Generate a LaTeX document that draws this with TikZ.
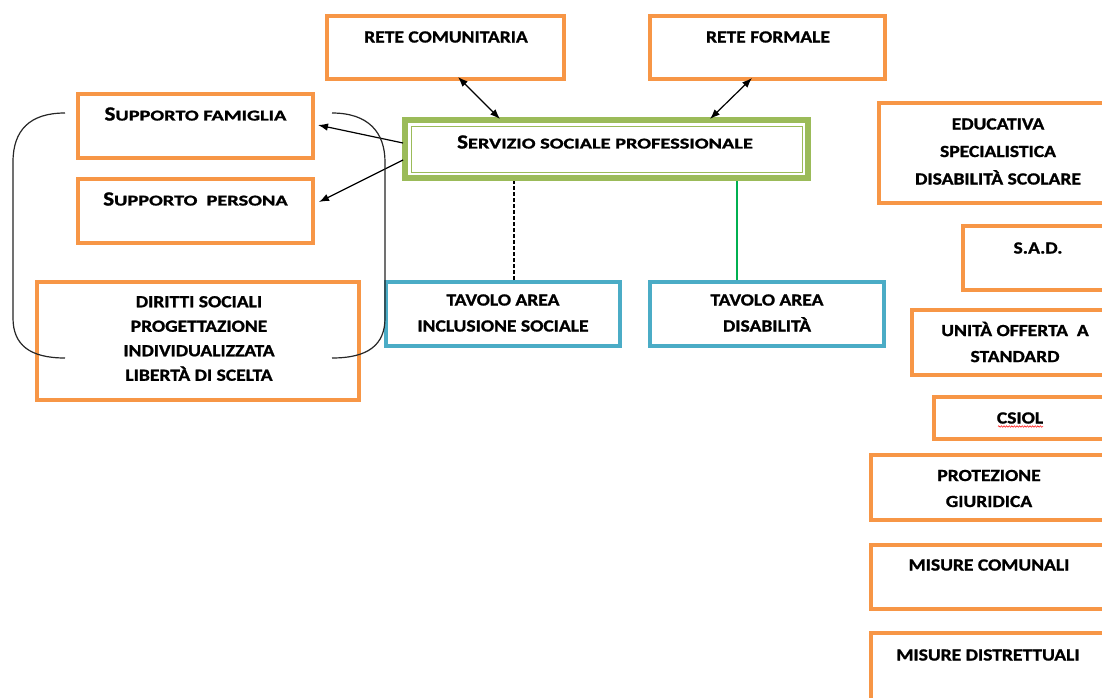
\documentclass[tikz,border=0pt]{standalone}
\usepackage{fontspec}
\usepackage{graphicx}
\setmainfont{Carlito}[FakeStretch=1.15, BoldFeatures={FakeBold=1.2}]
\usetikzlibrary{arrows.meta,decorations.pathmorphing}
\definecolor{orng}{HTML}{F79646}
\definecolor{blu}{HTML}{4BACC6}
\definecolor{grn}{HTML}{9BBB59}
\definecolor{lgrn}{HTML}{00B050}
\newcommand{\bigsc}[2]{{\fontsize{20}{20}\selectfont #1}\scalebox{1.18}[1]{\fontsize{15}{20}\selectfont #2}}
\tikzset{
  obox/.style={draw=orng, line width=4pt, rectangle, inner sep=0pt},
  bbox/.style={draw=blu, line width=4pt, rectangle, inner sep=0pt},
  txt/.style={font=\bfseries\fontsize{17}{24.5}\selectfont, align=center, inner sep=0pt, text=black},
  arr/.style={line width=1.2pt, -{Latex[length=10pt,width=7.5pt]}},
  darr/.style={line width=1.2pt, {Latex[length=10pt,width=7.5pt]}-{Latex[length=10pt,width=7.5pt]}},
  brk/.style={line width=1.2pt, black!85}
}
\begin{document}
\begin{tikzpicture}[x=1pt,y=-1pt]
\useasboundingbox (0,0) rectangle (1102,698);
\fill[white] (0,0) rectangle (1102,698);
\begin{scope}
\clip (0,0) rectangle (1102,698);
% top boxes
\node[obox, minimum width=237pt, minimum height=63pt] (rc) at (445.5,47.5) {};
\node[txt] (trc) at (446,37) {RETE COMUNITARIA};
\node[obox, minimum width=235pt, minimum height=63pt] (rf) at (767.5,47.5) {};
\node[txt] (trf) at (768,37) {RETE FORMALE};
% central box
\node[draw=grn, line width=6pt, rectangle, inner sep=0pt, minimum width=403pt, minimum height=58pt] (ssp) at (606.5,149) {};
\node[draw=grn, line width=0.8pt, rectangle, inner sep=0pt, minimum width=391pt, minimum height=46pt] (sspi) at (606.5,149) {};
\node[txt] (tssp) at (605,142) {\bigsc{S}{ERVIZIO SOCIALE PROFESSIONALE}};
% left boxes
\node[obox, minimum width=235pt, minimum height=64pt] (sf) at (195.5,126) {};
\node[txt] (tsf) at (195.5,114) {\bigsc{S}{UPPORTO FAMIGLIA}};
\node[obox, minimum width=235pt, minimum height=64pt] (sp) at (195.5,211) {};
\node[txt] (tsp) at (195.5,199) {\bigsc{S}{UPPORTO\ \ PERSONA}};
\node[obox, minimum width=322pt, minimum height=118pt] (ds) at (198,341) {};
\node[txt] (tds) at (199,338.5) {DIRITTI SOCIALI\\PROGETTAZIONE\\INDIVIDUALIZZATA\\LIBERTÀ DI SCELTA};
% tavoli
\node[bbox, minimum width=234pt, minimum height=64pt] (tai) at (503,314) {};
\node[txt, font=\bfseries\fontsize{17}{26}\selectfont] (ttai) at (503,313) {TAVOLO AREA\\INCLUSIONE SOCIALE};
\node[bbox, minimum width=234pt, minimum height=64pt] (tad) at (767,314) {};
\node[txt, font=\bfseries\fontsize{17}{26}\selectfont] (ttad) at (767,313) {TAVOLO AREA\\DISABILITÀ};
% right column
\node[obox, minimum width=246pt, minimum height=100pt] (edu) at (1002,153) {};
\node[txt, font=\bfseries\fontsize{17}{27.5}\selectfont] (tedu) at (998,151.5) {EDUCATIVA\\SPECIALISTICA\\DISABILITÀ SCOLARE};
\node[obox, minimum width=160pt, minimum height=64pt] (sad) at (1043,258) {};
\node[txt] (tsad) at (1038,248) {S.A.D.};
\node[obox, minimum width=206pt, minimum height=65pt] (uos) at (1015,342.5) {};
\node[txt, font=\bfseries\fontsize{17}{26}\selectfont] (tuos) at (1015,342) {UNITÀ OFFERTA\ \ A\\STANDARD};
\node[obox, minimum width=174pt, minimum height=42pt] (cs) at (1021,418) {};
\node[txt] (tcs) at (1020,418) {CSIOL};
\node[obox, minimum width=237pt, minimum height=65pt] (pg) at (989.5,487.5) {};
\node[txt, font=\bfseries\fontsize{17}{26}\selectfont] (tpg) at (989,488.5) {PROTEZIONE\\GIURIDICA};
\node[obox, minimum width=237pt, minimum height=64pt] (mc) at (989.5,577) {};
\node[txt] (tmc) at (989,565) {MISURE COMUNALI};
\node[obox, minimum width=237pt, minimum height=85pt] (md) at (989.5,675.5) {};
\node[txt] (tmd) at (988,655) {MISURE DISTRETTUALI};
\end{scope}
% spell-check underline
\draw[red, line width=0.5pt, decorate, decoration={snake, amplitude=0.8pt, segment length=2.6pt}] ([xshift=-22pt, yshift=-8.5pt]tcs.center) -- ([xshift=23pt, yshift=-8.5pt]tcs.center);
% connectors
\draw[darr] ([xshift=12.5pt, yshift=4pt]rc.south) -- ([xshift=-106.5pt, yshift=-2pt]ssp.north);
\draw[darr] ([xshift=-15.5pt, yshift=3pt]rf.south) -- ([xshift=103.5pt, yshift=-2pt]ssp.north);
\draw[arr] ([xshift=1pt, yshift=6pt]ssp.west) -- ([xshift=3pt, yshift=1pt]sf.east);
\draw[arr] ([xshift=1pt, yshift=-11pt]ssp.west) -- ([xshift=4pt, yshift=9pt]sp.east);
\draw[line width=1.3pt, dash pattern=on 4pt off 2pt] ([xshift=11pt]tai.north) -- ([xshift=11pt]tai.north |- ssp.south);
\draw[lgrn, line width=2pt] ([xshift=-30pt]tad.north) -- ([xshift=-30pt]tad.north |- ssp.south);
% brackets
\draw[brk] (65,113) .. controls (30,113) and (13,130) .. (13,162) -- (13,318) .. controls (13,345) and (30,358) .. (65,358);
\draw[brk] (332,113) .. controls (368,113) and (385,132) .. (385,162) -- (385,318) .. controls (385,345) and (368,358) .. (332,358);
\end{tikzpicture}
\end{document}
